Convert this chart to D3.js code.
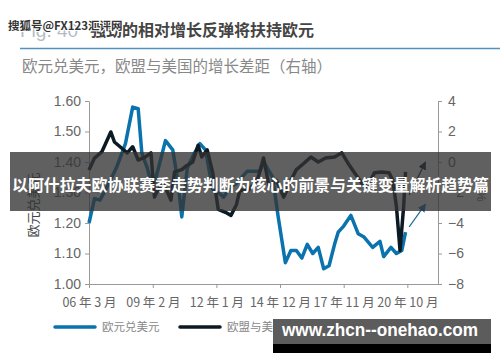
<!DOCTYPE html>
<head>
  <meta charset="utf-8">
  <script src="https://d3js.org/d3.v7.min.js"></script>
  <style>
    body { margin:0; background:#fff; }
    svg { font-family: "Liberation Sans", Arial, "Noto Sans CJK SC", sans-serif; display:block; }
    .cjk { font-family: "Noto Sans CJK SC", sans-serif; }
    .axis path, .axis line { stroke:#999; }
    .axis text { fill:#666; }
  </style>
</head>
<body>
<svg width="500" height="362"></svg>

<script>
  // EUR/USD (left axis)
  var eurDates = ["2006-03","2006-06","2006-09","2007-01","2007-06","2007-11","2008-03","2008-06","2008-08","2008-11",
    "2009-02","2009-06","2009-09","2010-01","2010-04","2010-06","2010-09","2011-01","2011-04","2011-07",
    "2011-11","2012-02","2012-05","2012-09","2012-12","2013-06","2013-10","2014-01","2014-03","2014-08",
    "2014-11","2015-03","2015-06","2015-09","2015-12","2016-03","2016-06","2016-09","2016-12","2017-03",
    "2017-06","2017-08","2017-11","2018-03","2018-07","2018-10","2019-03","2019-07","2019-09","2020-01",
    "2020-04","2020-07","2020-09"];
  var eurValues = [1.20,1.28,1.275,1.32,1.38,1.46,1.58,1.575,1.43,1.38,
    1.31,1.40,1.47,1.44,1.33,1.22,1.38,1.43,1.46,1.44,
    1.31,1.30,1.285,1.32,1.33,1.37,1.37,1.37,1.40,1.35,
    1.22,1.07,1.11,1.11,1.085,1.13,1.10,1.12,1.05,1.06,
    1.13,1.17,1.19,1.225,1.165,1.155,1.12,1.14,1.09,1.12,
    1.10,1.11,1.17];

  // EU - US growth gap (right axis)
  var gapDates = ["2006-03","2006-06","2006-10","2007-03","2007-05","2007-09","2007-12","2008-03","2008-06","2008-10",
    "2009-01","2009-03","2009-05","2009-08","2009-12","2010-02","2010-06","2010-08","2010-12","2011-03",
    "2011-05","2011-08","2011-11","2012-02","2012-06","2012-09","2012-12","2013-02","2013-06","2013-10",
    "2013-12","2014-03","2014-06","2014-10","2015-02","2015-04","2015-06","2015-09","2016-01","2016-05",
    "2016-09","2017-01","2017-06","2017-10","2018-02","2018-05","2018-09","2018-12","2019-04","2019-08",
    "2019-12","2020-02","2020-04","2020-06","2020-08","2020-09"];
  var gapValues = [-0.52,0.26,0.66,1.97,1.31,0.9,0.6,1.0,0.13,0.33,
    0.6,-2.3,-1.8,-1.4,-2.5,-0.65,-0.5,-0.3,0,1.1,
    0.33,0.8,-0.7,-3.1,-3.3,-3.5,-2.8,-1.8,-1.9,-1.4,
    -1.0,0.26,-1.6,-1.2,-2.3,-1.8,-1.2,-0.5,-0.1,0.33,
    0,0.26,0.33,0.6,-0.2,-0.7,-1.4,-1.6,-0.7,-0.65,
    -0.7,-1.2,-2.9,-5.8,-2.9,-0.65];

  // outlook arrows
  var arrowDates = ["2020-11","2021-08"];
  var eurArrow = [1.187, 1.262];
  var gapArrow = [-2.16, 0];

  var xTickDates = ["2006-03","2009-02","2012-01","2014-12","2017-11","2020-10"];
  var leftTicks = [1.00,1.10,1.20,1.30,1.40,1.50,1.60];
  var rightTicks = [-8,-6,-4,-2,0,2,4];

  var parse = d3.timeParse("%Y-%m");
  var svg = d3.select("svg");

  var x = d3.scaleTime().domain([parse("2006-03"), parse("2022-04")]).range([89, 440]);
  var yL = d3.scaleLinear().domain([1.0, 1.6]).range([284, 101]);
  var yR = d3.scaleLinear().domain([-8, 4]).range([284, 101]);

  // header
  svg.append("text").attr("x", 20).attr("y", 37).attr("font-size", 19).attr("fill", "#b4bcc6").text("Fig. 40");
  svg.append("text").attr("class", "cjk").attr("x", 90).attr("y", 36).attr("font-size", 16)
    .attr("font-weight", "bold").attr("fill", "#444").text("强劲的相对增长反弹将扶持欧元");
  svg.append("text").attr("class", "cjk").attr("x", 8).attr("y", 30).attr("font-size", 11.5)
    .attr("font-weight", "bold").attr("fill", "#333").attr("stroke", "#fff").attr("stroke-width", 2)
    .attr("paint-order", "stroke").text("搜狐号@FX123汇评网");
  svg.append("line").attr("x1", 20).attr("x2", 500).attr("y1", 48.5).attr("y2", 48.5)
    .attr("stroke", "#4f93bd").attr("stroke-width", 1.5);
  svg.append("text").attr("class", "cjk").attr("x", 22).attr("y", 72).attr("font-size", 15.5)
    .attr("fill", "#888").text("欧元兑美元，欧盟与美国的增长差距（右轴）");

  // axes
  var xAxis = d3.axisBottom(x).tickValues(xTickDates.map(parse)).tickSize(4)
    .tickFormat(function(d) { return d3.timeFormat("%y")(d) + " 年 " + (d.getMonth() + 1) + " 月"; });
  var gx = svg.append("g").attr("class", "axis").attr("transform", "translate(0,284)").call(xAxis);
  gx.select(".domain").attr("d", "M89,0.5H440");
  gx.selectAll("text").attr("class", "cjk").attr("font-size", 12.5).attr("dy", "1.25em");

  var gl = svg.append("g").attr("class", "axis").attr("transform", "translate(89,0)")
    .call(d3.axisLeft(yL).tickValues(leftTicks).tickSize(4).tickFormat(d3.format(".2f")).tickSizeOuter(0));
  gl.selectAll("text").attr("font-size", 14).attr("x", -8);

  var gr = svg.append("g").attr("class", "axis").attr("transform", "translate(438,0)")
    .call(d3.axisRight(yR).tickValues(rightTicks).tickSize(4).tickSizeOuter(0));
  gr.selectAll("text").attr("font-size", 14).attr("x", 10);

  svg.append("text").attr("class", "cjk").attr("transform", "translate(38,205) rotate(-90)")
    .attr("text-anchor", "middle").attr("font-size", 13).attr("fill", "#444").text("欧元兑美元");
  svg.append("text").attr("transform", "translate(477,196) rotate(90)")
    .attr("text-anchor", "middle").attr("font-size", 13).attr("fill", "#666").text("%");

  // lines
  var eurLine = d3.line().x(function(d, i) { return x(parse(eurDates[i])); }).y(function(d) { return yL(d); });
  var gapLine = d3.line().x(function(d, i) { return x(parse(gapDates[i])); }).y(function(d) { return yR(d); });

  svg.append("path").datum(eurValues).attr("d", eurLine).attr("fill", "none")
    .attr("stroke", "#0a72ad").attr("stroke-width", 3.5).attr("stroke-linejoin", "round");
  svg.append("path").datum(gapValues).attr("d", gapLine).attr("fill", "none")
    .attr("stroke", "#0c1a24").attr("stroke-width", 3.5).attr("stroke-linejoin", "round");

  // arrows
  var defs = svg.append("defs");
  [["ab", "#0c1a24"], ["ae", "#1a6fa0"]].forEach(function(m) {
    defs.append("marker").attr("id", m[0]).attr("viewBox", "0 0 10 10").attr("refX", 9).attr("refY", 5)
      .attr("markerWidth", 7).attr("markerHeight", 7).attr("orient", "auto")
      .append("path").attr("d", "M0,0L10,5L0,10z").attr("fill", m[1]);
  });
  svg.append("line").attr("x1", x(parse(arrowDates[0]))).attr("y1", yR(gapArrow[0]))
    .attr("x2", x(parse(arrowDates[1]))).attr("y2", yR(gapArrow[1]))
    .attr("stroke", "#0c1a24").attr("stroke-width", 1.2).attr("marker-end", "url(#ab)");
  svg.append("line").attr("x1", x(parse(arrowDates[0]))).attr("y1", yL(eurArrow[0]))
    .attr("x2", x(parse(arrowDates[1]))).attr("y2", yL(eurArrow[1]))
    .attr("stroke", "#1a6fa0").attr("stroke-width", 1.2).attr("marker-end", "url(#ae)");

  // legend
  var legend = [["欧元兑美元", "#0a72ad", 55], ["欧盟与美国的增长差距（右轴）", "#0c1a24", 180]];
  legend.forEach(function(l) {
    svg.append("line").attr("x1", l[2]).attr("x2", l[2] + 40).attr("y1", 327).attr("y2", 327)
      .attr("stroke", l[1]).attr("stroke-width", 3.5).attr("stroke-linecap", "round");
    svg.append("text").attr("class", "cjk").attr("x", l[2] + 47).attr("y", 331).attr("font-size", 11.5)
      .attr("fill", "#888").text(l[0]);
  });

  // overlay band
  svg.append("rect").attr("x", 10).attr("y", 152).attr("width", 481).attr("height", 59)
    .attr("fill", "#333").attr("opacity", 0.78);
  svg.append("text").attr("class", "cjk").attr("x", 12).attr("y", 191)
    .attr("font-size", 16).attr("font-weight", "bold").attr("fill", "#fff")
    .attr("textLength", 477).attr("lengthAdjust", "spacingAndGlyphs")
    .text("以阿什拉夫欧协联赛季走势判断为核心的前景与关键变量解析趋势篇");

  // site box
  svg.append("rect").attr("x", 273).attr("y", 319).attr("width", 218).attr("height", 25).attr("fill", "#5c5c5c");
  svg.append("rect").attr("x", 273).attr("y", 344).attr("width", 218).attr("height", 9).attr("fill", "#000");
  svg.append("text").attr("x", 282).attr("y", 336).attr("font-size", 18).attr("font-weight", "bold")
    .attr("fill", "#fff").attr("textLength", 196).attr("lengthAdjust", "spacingAndGlyphs")
    .text("www.zhcn--onehao.com");
</script>
</body>
